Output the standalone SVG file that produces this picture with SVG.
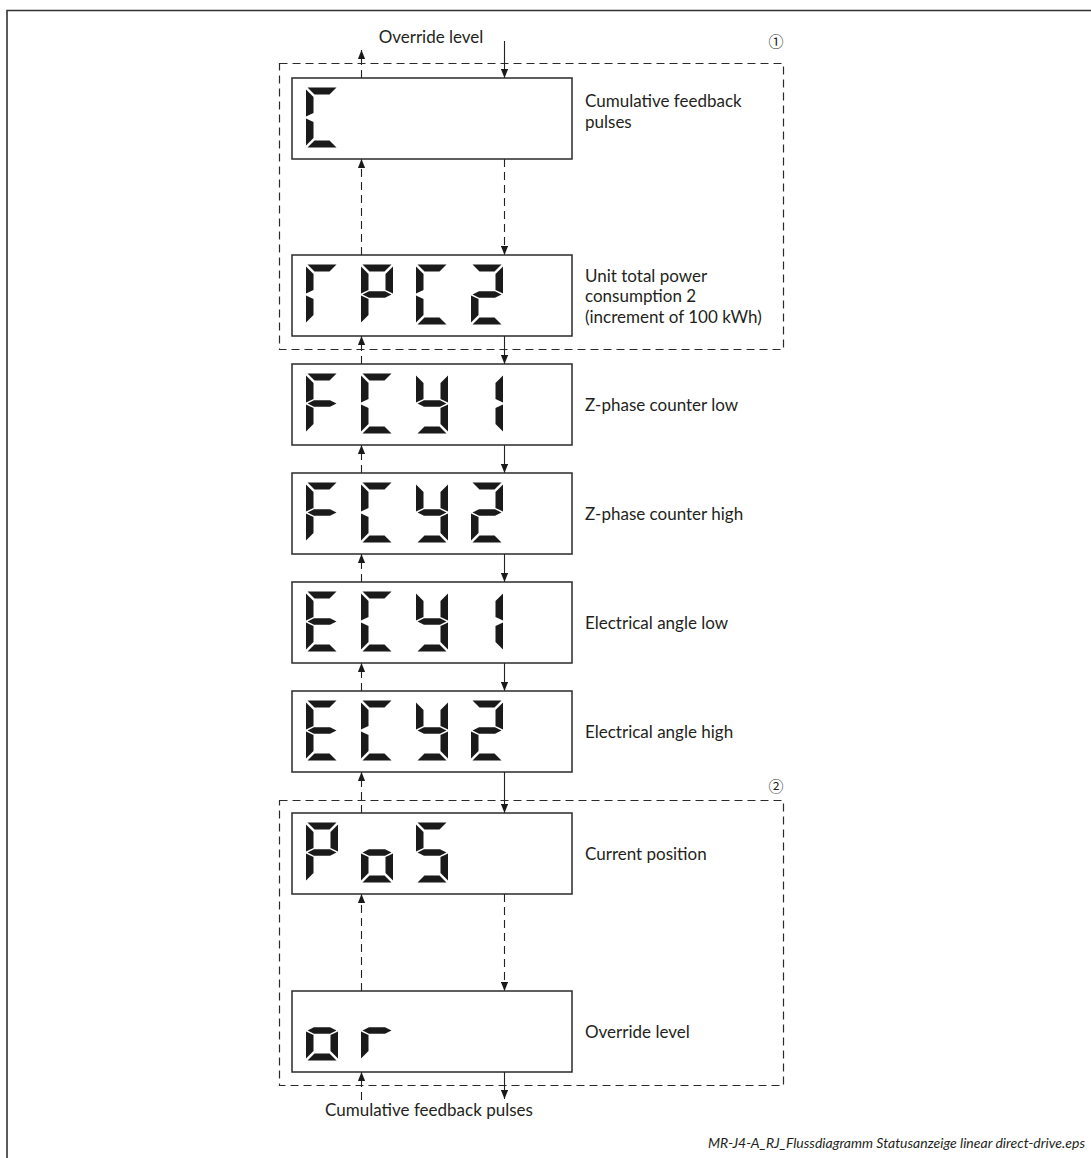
<svg xmlns="http://www.w3.org/2000/svg" width="1091" height="1158" viewBox="0 0 1091 1158">
<style>
.frame{fill:none;stroke:#333;stroke-width:1.6}
.box{fill:#fff;stroke:#2a2a2a;stroke-width:1.5}
.grp{fill:none;stroke:#2a2a2a;stroke-width:1.2;stroke-dasharray:8 5}
.seg{fill:#1a1a1a}
.lbl{font-family:Lato,"Open Sans",sans-serif;font-size:17px;fill:#231f20}
.foot{font-family:Lato,"Open Sans",sans-serif;font-size:14px;font-style:italic;fill:#231f20}
.num{font-family:"Noto Sans CJK JP","DejaVu Sans",sans-serif;font-size:15px;fill:#231f20}
.c{fill:none;stroke:#222;stroke-width:1.1}
.d{stroke-dasharray:8 5}
</style>
<defs>
<marker id="ah" viewBox="0 0 10 8" refX="10" refY="4" markerWidth="9" markerHeight="7.5" markerUnits="userSpaceOnUse" orient="auto">
<path d="M0,0 L10,4 L0,8 Z" fill="#1a1a1a"/>
</marker>
<path id="sa" class="seg" d="M1.5,0 H30.5 L23.5,7 H8.5 Z"/>
<path id="sf" class="seg" d="M0,2 L7.5,9.5 V25.5 L0,29 Z"/>
<path id="sb" class="seg" d="M32,2 L24.5,9.5 V25.5 L32,29 Z"/>
<path id="sg" class="seg" d="M1.5,30 L8,26.7 H24 L30.5,30 L24,33.3 H8 Z"/>
<path id="se" class="seg" d="M0,31 L7.5,34.5 V50.5 L0,58 Z"/>
<path id="sc" class="seg" d="M32,31 L24.5,34.5 V50.5 L32,58 Z"/>
<path id="sd" class="seg" d="M8.5,53 H23.5 L30.5,60 H1.5 Z"/>
<g id="chC"><use href="#sa"/><use href="#sf"/><use href="#se"/><use href="#sd"/></g>
<g id="chR"><use href="#sa"/><use href="#sf"/><use href="#se"/></g>
<g id="chP"><use href="#sa"/><use href="#sb"/><use href="#sf"/><use href="#sg"/><use href="#se"/></g>
<g id="ch2"><use href="#sa"/><use href="#sb"/><use href="#sg"/><use href="#se"/><use href="#sd"/></g>
<g id="chF"><use href="#sa"/><use href="#sf"/><use href="#sg"/><use href="#se"/></g>
<g id="chY"><use href="#sb"/><use href="#sf"/><use href="#sg"/><use href="#sc"/><use href="#sd"/></g>
<g id="ch1"><use href="#sb"/><use href="#sc"/></g>
<g id="chE"><use href="#sa"/><use href="#sf"/><use href="#sg"/><use href="#se"/><use href="#sd"/></g>
<g id="cho"><use href="#sg"/><use href="#se"/><use href="#sc"/><use href="#sd"/></g>
<g id="chS"><use href="#sa"/><use href="#sf"/><use href="#sg"/><use href="#sc"/><use href="#sd"/></g>
<g id="chr"><use href="#sg"/><use href="#se"/></g>
</defs>

<rect width="1091" height="1158" fill="#fff"/>
<path class="frame" d="M7,1158 V10.5 H1091"/>

<g id="group1">
<rect class="grp" x="279.5" y="63.5" width="504" height="286"/>
<text class="num" x="776" y="47" text-anchor="middle">①</text>
</g>
<g id="group2">
<rect class="grp" x="279.5" y="800.5" width="504" height="285"/>
<text class="num" x="776" y="792" text-anchor="middle">②</text>
</g>

<g id="connectors">
<line class="c d" x1="361.5" y1="78" x2="361.5" y2="50" marker-end="url(#ah)"/>
<line class="c" x1="504.5" y1="41" x2="504.5" y2="78" marker-end="url(#ah)"/>
<line class="c d" x1="361.5" y1="255" x2="361.5" y2="159" marker-end="url(#ah)"/>
<line class="c d" x1="504.5" y1="159" x2="504.5" y2="255" marker-end="url(#ah)"/>
<line class="c d" x1="361.5" y1="364" x2="361.5" y2="336" marker-end="url(#ah)"/>
<line class="c" x1="504.5" y1="336" x2="504.5" y2="364" marker-end="url(#ah)"/>
<line class="c d" x1="361.5" y1="473" x2="361.5" y2="445" marker-end="url(#ah)"/>
<line class="c" x1="504.5" y1="445" x2="504.5" y2="473" marker-end="url(#ah)"/>
<line class="c d" x1="361.5" y1="582" x2="361.5" y2="554" marker-end="url(#ah)"/>
<line class="c" x1="504.5" y1="554" x2="504.5" y2="582" marker-end="url(#ah)"/>
<line class="c d" x1="361.5" y1="691" x2="361.5" y2="663" marker-end="url(#ah)"/>
<line class="c" x1="504.5" y1="663" x2="504.5" y2="691" marker-end="url(#ah)"/>
<line class="c d" x1="361.5" y1="813" x2="361.5" y2="772" marker-end="url(#ah)"/>
<line class="c" x1="504.5" y1="772" x2="504.5" y2="813" marker-end="url(#ah)"/>
<line class="c d" x1="361.5" y1="991" x2="361.5" y2="894" marker-end="url(#ah)"/>
<line class="c d" x1="504.5" y1="894" x2="504.5" y2="991" marker-end="url(#ah)"/>
<line class="c d" x1="361.5" y1="1100" x2="361.5" y2="1072" marker-end="url(#ah)"/>
<line class="c" x1="504.5" y1="1072" x2="504.5" y2="1099" marker-end="url(#ah)"/>
</g>

<text class="lbl" x="431" y="43" text-anchor="middle">Override level</text>
<text class="lbl" x="429" y="1116" text-anchor="middle">Cumulative feedback pulses</text>

<g id="n1">
<rect class="box" x="292" y="78" width="280" height="81"/>
<use href="#chC" x="306" y="87.5"/>
<text class="lbl" x="585" y="107">Cumulative feedback<tspan x="585" dy="20.6">pulses</tspan></text>
</g>
<g id="n2">
<rect class="box" x="292" y="255" width="280" height="81"/>
<use href="#chR" x="306" y="264.5"/><use href="#chP" x="361" y="264.5"/><use href="#chC" x="416" y="264.5"/><use href="#ch2" x="471" y="264.5"/>
<text class="lbl" x="585" y="281.5">Unit total power<tspan x="585" dy="20.6">consumption 2</tspan><tspan x="585" dy="20.6">(increment of 100 kWh)</tspan></text>
</g>
<g id="n3">
<rect class="box" x="292" y="364" width="280" height="81"/>
<use href="#chF" x="306" y="373.5"/><use href="#chC" x="361" y="373.5"/><use href="#chY" x="416" y="373.5"/><use href="#ch1" x="471" y="373.5"/>
<text class="lbl" x="585" y="410.5">Z-phase counter low</text>
</g>
<g id="n4">
<rect class="box" x="292" y="473" width="280" height="81"/>
<use href="#chF" x="306" y="482.5"/><use href="#chC" x="361" y="482.5"/><use href="#chY" x="416" y="482.5"/><use href="#ch2" x="471" y="482.5"/>
<text class="lbl" x="585" y="519.5">Z-phase counter high</text>
</g>
<g id="n5">
<rect class="box" x="292" y="582" width="280" height="81"/>
<use href="#chE" x="306" y="591.5"/><use href="#chC" x="361" y="591.5"/><use href="#chY" x="416" y="591.5"/><use href="#ch1" x="471" y="591.5"/>
<text class="lbl" x="585" y="628.5">Electrical angle low</text>
</g>
<g id="n6">
<rect class="box" x="292" y="691" width="280" height="81"/>
<use href="#chE" x="306" y="700.5"/><use href="#chC" x="361" y="700.5"/><use href="#chY" x="416" y="700.5"/><use href="#ch2" x="471" y="700.5"/>
<text class="lbl" x="585" y="737.5">Electrical angle high</text>
</g>
<g id="n7">
<rect class="box" x="292" y="813" width="280" height="81"/>
<use href="#chP" x="306" y="822.5"/><use href="#cho" x="361" y="822.5"/><use href="#chS" x="416" y="822.5"/>
<text class="lbl" x="585" y="859.5">Current position</text>
</g>
<g id="n8">
<rect class="box" x="292" y="991" width="280" height="81"/>
<use href="#cho" x="306" y="1000.5"/><use href="#chr" x="361" y="1000.5"/>
<text class="lbl" x="585" y="1037.5">Override level</text>
</g>

<text class="foot" x="1085" y="1148" text-anchor="end">MR-J4-A_RJ_Flussdiagramm Statusanzeige linear direct-drive.eps</text>
</svg>
